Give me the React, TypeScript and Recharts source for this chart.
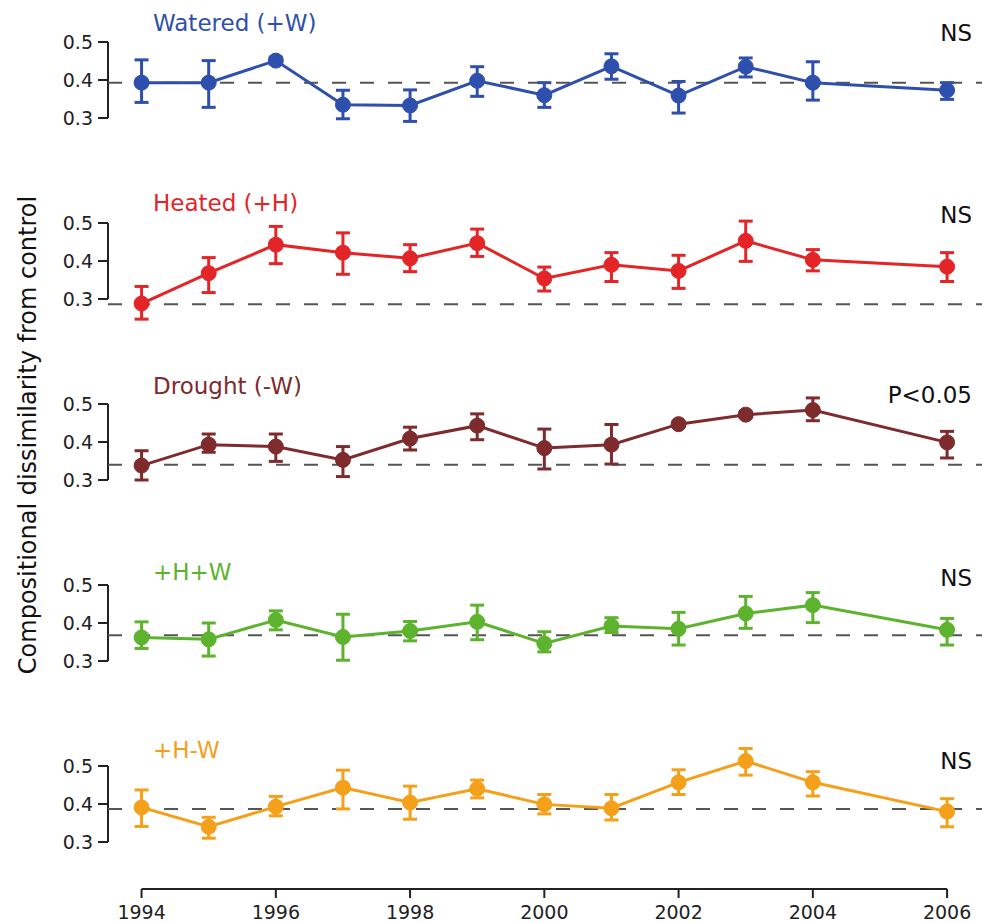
import React from "react";
import {
  ErrorBar,
  Line,
  LineChart,
  ReferenceLine,
  XAxis,
  YAxis,
} from "recharts";

const YEARS = [1994, 1995, 1996, 1997, 1998, 1999, 2000, 2001, 2002, 2003, 2004, 2006];
const X_TICKS = [1994, 1996, 1998, 2000, 2002, 2004, 2006];
const Y_TICKS = [0.3, 0.4, 0.5];

const WATERED_MEAN = [0.393, 0.393, 0.451, 0.335, 0.333, 0.398, 0.36, 0.436, 0.359, 0.435, 0.393, 0.373];
const WATERED_LOW = [0.341, 0.328, 0.442, 0.298, 0.291, 0.357, 0.328, 0.402, 0.313, 0.408, 0.347, 0.349];
const WATERED_HIGH = [0.453, 0.451, 0.46, 0.373, 0.374, 0.435, 0.393, 0.469, 0.396, 0.458, 0.448, 0.393];

const HEATED_MEAN = [0.288, 0.368, 0.443, 0.422, 0.407, 0.447, 0.354, 0.39, 0.374, 0.453, 0.403, 0.385];
const HEATED_LOW = [0.247, 0.317, 0.393, 0.365, 0.372, 0.412, 0.321, 0.346, 0.328, 0.399, 0.374, 0.346];
const HEATED_HIGH = [0.333, 0.409, 0.491, 0.474, 0.443, 0.484, 0.384, 0.422, 0.415, 0.505, 0.43, 0.422];

const DROUGHT_MEAN = [0.338, 0.393, 0.388, 0.353, 0.409, 0.443, 0.384, 0.393, 0.447, 0.472, 0.484, 0.399];
const DROUGHT_LOW = [0.3, 0.373, 0.349, 0.309, 0.379, 0.406, 0.329, 0.342, 0.442, 0.465, 0.456, 0.358];
const DROUGHT_HIGH = [0.377, 0.421, 0.421, 0.388, 0.439, 0.474, 0.434, 0.446, 0.452, 0.479, 0.516, 0.428];

const HW_MEAN = [0.362, 0.357, 0.408, 0.363, 0.379, 0.403, 0.346, 0.392, 0.385, 0.425, 0.447, 0.382];
const HW_LOW = [0.333, 0.313, 0.382, 0.302, 0.353, 0.356, 0.324, 0.375, 0.342, 0.386, 0.401, 0.342];
const HW_HIGH = [0.403, 0.4, 0.432, 0.423, 0.404, 0.447, 0.377, 0.414, 0.428, 0.47, 0.48, 0.412];

const HD_MEAN = [0.391, 0.34, 0.393, 0.443, 0.404, 0.44, 0.399, 0.389, 0.457, 0.513, 0.457, 0.38];
const HD_LOW = [0.341, 0.31, 0.369, 0.387, 0.36, 0.416, 0.374, 0.358, 0.425, 0.476, 0.421, 0.34];
const HD_HIGH = [0.437, 0.365, 0.42, 0.489, 0.447, 0.463, 0.425, 0.425, 0.49, 0.546, 0.485, 0.414];

// dashed line = control level in each panel
const CONTROL_LEVELS = [0.393, 0.286, 0.34, 0.368, 0.387];

const TITLES = ["Watered (+W)", "Heated (+H)", "Drought (-W)", "+H+W", "+H-W"];
const NOTES = ["NS", "NS", "P<0.05", "NS", "NS"];
const COLORS = ["#2f4fad", "#e42528", "#7e2b2d", "#5db32d", "#f5a01a"];

const FONT = "'DejaVu Sans', 'Liberation Sans', sans-serif";
const WIDTH = 982;
const PANEL_H = 181;
const AXIS_H = 34;
const PX_PER_UNIT = 380;
const Y_TOP = 0.5 + 42 / PX_PER_UNIT;
const X_DOMAIN: [number, number] = [1993.5, 2006.52];

const SERIES = [
  { mean: WATERED_MEAN, low: WATERED_LOW, high: WATERED_HIGH },
  { mean: HEATED_MEAN, low: HEATED_LOW, high: HEATED_HIGH },
  { mean: DROUGHT_MEAN, low: DROUGHT_LOW, high: DROUGHT_HIGH },
  { mean: HW_MEAN, low: HW_LOW, high: HW_HIGH },
  { mean: HD_MEAN, low: HD_LOW, high: HD_HIGH },
];
const TITLE_DY = [-19, -20, -18, -13, -16];
const NOTE_DY = [-9, -8, -9, -7, -5];

function Panel({ index }: { index: number }) {
  const s = SERIES[index];
  const color = COLORS[index];
  const last = index === SERIES.length - 1;
  const plotH = last ? PANEL_H - 16 : PANEL_H;
  const height = last ? plotH + AXIS_H : PANEL_H;
  const yLow = Y_TOP - plotH / PX_PER_UNIT;
  const top = index * PANEL_H;
  const data = YEARS.map((year, i) => ({
    year,
    mean: s.mean[i],
    err: [s.mean[i] - s.low[i], s.high[i] - s.mean[i]],
  }));

  return (
    <div style={{ position: "absolute", left: 0, top, width: WIDTH, height }}>
      <LineChart
        width={WIDTH}
        height={height}
        data={data}
        margin={{ top: 0, right: 0, bottom: 0, left: 0 }}
      >
        <XAxis
          dataKey="year"
          type="number"
          domain={X_DOMAIN}
          allowDataOverflow
          ticks={X_TICKS}
          hide={!last}
          height={AXIS_H}
          axisLine={false}
          tickLine={{ stroke: "#222", strokeWidth: 2 }}
          tickSize={9}
          tickMargin={8}
          tick={{ fontSize: 19, fill: "#222", fontFamily: FONT }}
        />
        <YAxis
          type="number"
          domain={[yLow, Y_TOP]}
          allowDataOverflow
          ticks={Y_TICKS}
          width={108}
          axisLine={false}
          tickLine={{ stroke: "#222", strokeWidth: 2 }}
          tickSize={10}
          tickMargin={5}
          tickFormatter={(v) => Number(v).toFixed(1)}
          tick={{ fontSize: 19, fill: "#222", fontFamily: FONT }}
        />
        <ReferenceLine
          segment={[
            { x: X_DOMAIN[0], y: 0.3 },
            { x: X_DOMAIN[0], y: 0.5 },
          ]}
          stroke="#222"
          strokeWidth={2}
          ifOverflow="visible"
        />
        {last && (
          <ReferenceLine
            segment={[
              { x: 1994, y: yLow },
              { x: 2006, y: yLow },
            ]}
            stroke="#222"
            strokeWidth={2}
            ifOverflow="visible"
          />
        )}
        <ReferenceLine
          y={CONTROL_LEVELS[index]}
          stroke="#555"
          strokeWidth={2}
          strokeDasharray="14 14"
        />
        <Line
          type="linear"
          dataKey="mean"
          stroke={color}
          strokeWidth={3}
          dot={{ r: 7.5, fill: color, stroke: color, strokeWidth: 1 }}
          activeDot={false}
          isAnimationActive={false}
        >
          <ErrorBar
            dataKey="err"
            direction="y"
            width={7}
            stroke={color}
            strokeWidth={3}
            isAnimationActive={false}
          />
        </Line>
      </LineChart>
      <div
        style={{
          position: "absolute",
          left: 153,
          top: 42 + TITLE_DY[index] - 12,
          fontFamily: FONT,
          fontSize: 23,
          lineHeight: "24px",
          color,
          whiteSpace: "nowrap",
        }}
      >
        {TITLES[index]}
      </div>
      <div
        style={{
          position: "absolute",
          left: 0,
          width: 972,
          textAlign: "right",
          top: 42 + NOTE_DY[index] - 12,
          fontFamily: FONT,
          fontSize: 23,
          lineHeight: "24px",
          color: "#111",
        }}
      >
        {NOTES[index]}
      </div>
    </div>
  );
}

export default function App() {
  return (
    <div
      style={{
        position: "absolute",
        left: 0,
        top: 0,
        width: WIDTH,
        height: 923,
        background: "#fff",
        overflow: "hidden",
      }}
    >
      {SERIES.map((_, i) => (
        <Panel key={i} index={i} />
      ))}
      <div
        style={{
          position: "absolute",
          left: 28,
          top: 435,
          transform: "translate(-50%, -50%) rotate(-90deg)",
          fontFamily: FONT,
          fontSize: 24,
          color: "#111",
          whiteSpace: "nowrap",
        }}
      >
        Compositional dissimilarity from control
      </div>
    </div>
  );
}
